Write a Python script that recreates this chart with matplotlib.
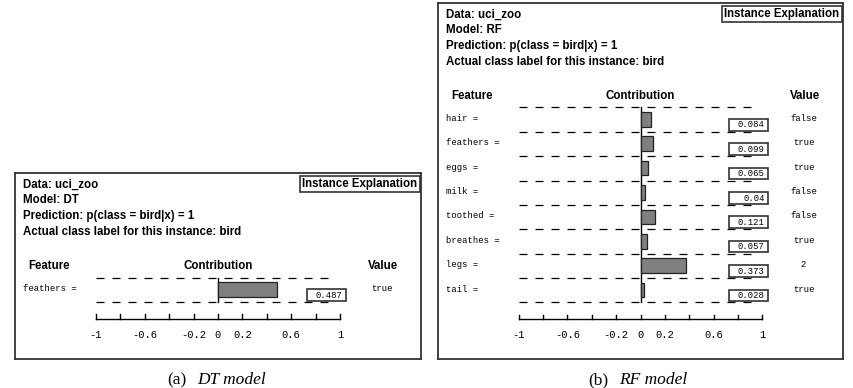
import matplotlib.pyplot as plt
from matplotlib.patches import Rectangle

# datos de los dos paneles
dt_features = ["feathers"]
dt_values = ["true"]
dt_contrib = [0.487]

rf_features = ["hair", "feathers", "eggs", "milk", "toothed", "breathes", "legs", "tail"]
rf_values = ["false", "true", "true", "false", "false", "true", "2", "true"]
rf_contrib = [0.084, 0.099, 0.065, 0.04, 0.121, 0.057, 0.373, 0.028]

tick_pos = [-1, -0.8, -0.6, -0.4, -0.2, 0, 0.2, 0.4, 0.6, 0.8, 1]
tick_lbl = ["-1", "-0.6", "-0.2", "0", "0.2", "0.6", "1"]
tick_lbl_pos = [-1, -0.6, -0.2, 0, 0.2, 0.6, 1]

SANS = "Liberation Sans"
MONO = "Liberation Mono"
SERIF = "Liberation Serif"


def dibujar_panel(ax, modelo, features, values, contrib):
    n = len(features)
    ax.set_xlim(-1.664, 1.664)
    ax.set_ylim(n - 1 + 2.87, -4.73)
    ax.set_xticks([])
    ax.set_yticks([])
    for s in ax.spines.values():
        s.set_color("#333333")
        s.set_linewidth(1.3)

    # encabezado
    lineas = ["Data: uci_zoo", "Model: " + modelo,
              "Prediction: p(class = bird|x) = 1",
              "Actual class label for this instance: bird"]
    for k, t in enumerate(lineas):
        ax.text(-1.598, -4.25 + 0.64 * k, t, fontsize=8.3, fontweight="bold",
                family=SANS, va="center", ha="left")
    ax.text(1.635, -4.28, "Instance Explanation", fontsize=8.3, fontweight="bold",
            family=SANS, va="center", ha="right",
            bbox=dict(boxstyle="square,pad=0.2", fc="white", ec="#333333", lw=1.2))

    ax.text(-1.557, -0.92, "Feature", fontsize=8.3, fontweight="bold", family=SANS,
            va="center", ha="left")
    ax.text(0, -0.92, "Contribution", fontsize=8.3, fontweight="bold", family=SANS,
            va="center", ha="center")
    ax.text(1.35, -0.92, "Value", fontsize=8.3, fontweight="bold", family=SANS,
            va="center", ha="center")

    # lineas punteadas entre filas
    for k in range(n + 1):
        ax.plot([-1, 0.94], [k - 0.45, k - 0.45], color="black", lw=0.9,
                dashes=(6.4, 6.4))
    ax.plot([0, 0], [-0.45, n - 0.45], color="black", lw=1.0)

    for i in range(n):
        ax.text(-1.598, i, features[i] + " =", fontsize=6.4, family=MONO,
                va="center", ha="left")
        ax.barh(i + 0.04, contrib[i], height=0.6, left=0, color="#808080",
                edgecolor="#222222", lw=0.9, zorder=3)
        ax.add_patch(Rectangle((0.73, i + 0.02), 0.32, 0.48, fc="white",
                               ec="#333333", lw=1.2, zorder=3))
        ax.text(1.02, i + 0.27, str(contrib[i]), fontsize=6.4, family=MONO,
                va="center", ha="right", zorder=4)
        ax.text(1.34, i, values[i], fontsize=6.4, family=MONO,
                va="center", ha="center")

    # eje inferior
    y_eje = n - 1 + 1.22
    ax.plot([-1, 1], [y_eje, y_eje], color="black", lw=1.0)
    for t in tick_pos:
        ax.plot([t, t], [y_eje, y_eje - 0.17], color="black", lw=1.0)
    for t, l in zip(tick_lbl_pos, tick_lbl):
        ax.text(t, y_eje + 0.68, l, fontsize=7.6, family=MONO,
                va="center", ha="center")


fig = plt.figure(figsize=(8.54, 3.88), dpi=100)
ax1 = fig.add_axes([15 / 854, 29 / 388, 406 / 854, 186 / 388])
ax2 = fig.add_axes([438 / 854, 29 / 388, 405 / 854, 356 / 388])

dibujar_panel(ax1, "DT", dt_features, dt_values, dt_contrib)
dibujar_panel(ax2, "RF", rf_features, rf_values, rf_contrib)

# leyendas debajo de cada panel
y_cap = 1 - 380 / 388
fig.text(187 / 854, y_cap, "(a)", family=SERIF, fontsize=12.5,
         ha="right", va="center")
fig.text(197 / 854, y_cap, "DT model", family=SERIF, fontsize=12.5,
         style="italic", ha="left", va="center")
fig.text(608 / 854, y_cap, "(b)", family=SERIF, fontsize=12.5,
         ha="right", va="center")
fig.text(619 / 854, y_cap, "RF model", family=SERIF, fontsize=12.5,
         style="italic", ha="left", va="center")

plt.savefig("out.png", dpi=100)
plt.close()
